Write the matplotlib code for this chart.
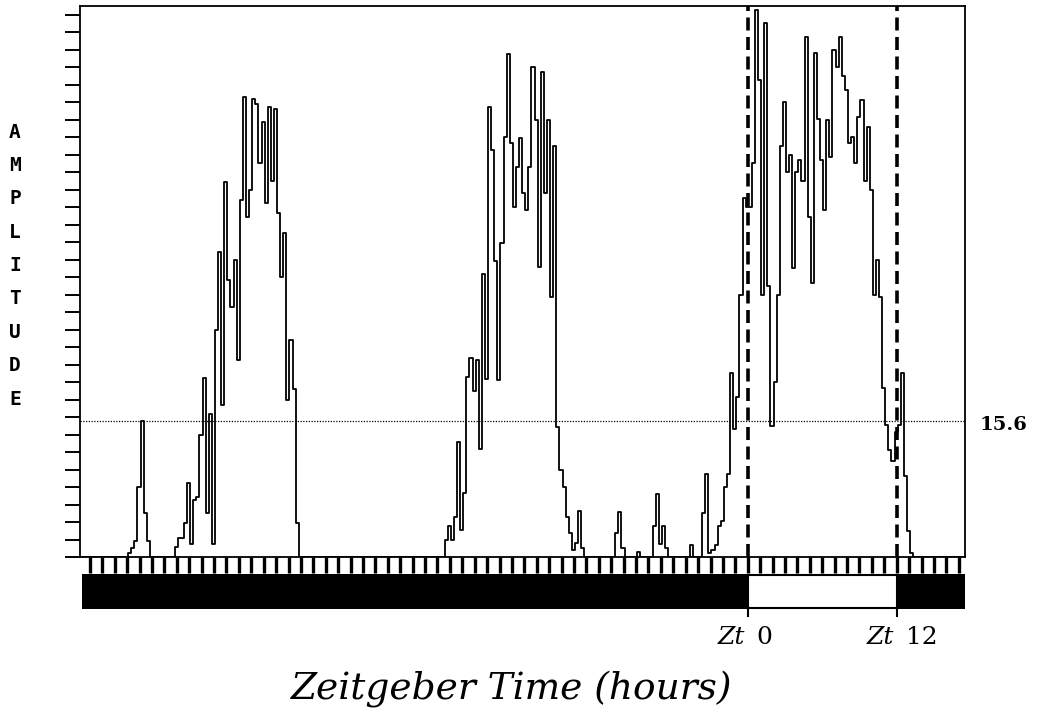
import numpy as np
import matplotlib.pyplot as plt
import matplotlib.transforms as mtransforms

# sampling step of the recorded trace (hours)
step = 0.25

# active stretches of the trace: start hour (Zt) + values
seg1_start = -50.0
seg1 = [0, 0.5, 1.0, 1.8, 8.0, 15.5, 5.0, 1.8, 0]

seg2_start = -46.25
seg2 = [0, 1.2, 2.2, 2.2, 3.9, 8.5, 1.5, 6.5, 6.9, 14, 20.5, 5, 16.4, 1.5,
        26, 34.9, 17.4, 42.9, 31.7, 28.6, 34, 22.5, 40.8, 52.6, 38.9, 42,
        52.4, 51.8, 45, 49.7, 40.5, 51.4, 43, 51.2, 39.3, 32, 37, 18, 24.8,
        19.2, 3.9, 0]

seg3_start = -24.5
seg3 = [0, 2, 3.5, 1.9, 4.6, 13.2, 3.1, 7.3, 20.6, 22.7, 19, 22.5, 12.4,
        32.4, 20.4, 51.5, 46.5, 33.9, 20.2, 35.9, 48, 57.5, 47.3, 40, 44.6,
        47.9, 41.6, 39.7, 44.6, 56, 50, 33.2, 55.5, 41.6, 50, 29.7, 47, 14.9,
        10, 8, 4.6, 2.7, 0.8, 1.6, 5.3, 1.0, 0]

seg4_start = -11.0
seg4 = [0, 0, 2.7, 5.1, 1.0, 0, 0, 0, 0, 0.6, 0, 0, 0, 0, 3.5, 7.2, 1.5,
        3.5, 1.0, 0, 0, 0, 0, 0, 0, 0, 1.4, 0, 0, 0, 5, 9.5, 0.5, 0.8, 1.4,
        3.5, 4.1, 8, 9.5, 21, 14.6, 18.3, 30, 41, 40, 40, 45, 62.5, 54.5, 30,
        61, 31, 15, 20, 30, 47, 52, 44, 46, 33, 44, 45.4, 43, 59.5, 38.9,
        31.3, 57.6, 50.1, 45.4, 39.7, 50, 45.7, 58, 56, 59.5, 55, 53.4, 47.3,
        48, 45, 50.3, 52.2, 43, 49.2, 42, 30, 34, 29.7, 19.3, 15.1, 12.2, 11,
        14.3, 15.1, 21, 9.3, 3, 0.5, 0]

threshold = 15.6
zt_marks = [0, 12]
zt_labels = ['0', '12']
light_on, light_off = 0, 12
x_min, x_max = -53.8, 17.5

hours = np.arange(x_min, x_max + step, step)
amp = np.zeros_like(hours)
for start, seg in [(seg1_start, seg1), (seg2_start, seg2),
                   (seg3_start, seg3), (seg4_start, seg4)]:
    i0 = int(round((start - x_min) / step))
    amp[i0:i0 + len(seg)] = seg

W, H = 1042, 721
fig = plt.figure(figsize=(W / 100, H / 100), dpi=100)


def box(x0, y0, x1, y1):
    return [x0 / W, 1 - y1 / H, (x1 - x0) / W, (y1 - y0) / H]


ax = fig.add_axes(box(80, 6, 965, 557))
ax.plot(hours, amp, color='black', lw=1.3, drawstyle='steps-mid')
ax.axhline(threshold, color='black', lw=0.9, ls=(0, (1, 1.2)))
for z in zt_marks:
    ax.axvline(z, color='black', lw=2.6, dashes=(3.6, 1.8))
ax.set_xlim(x_min, x_max)
ax.set_ylim(0, 63)
ax.set_xticks([])
ax.set_yticks(np.arange(0, 63, 2))
ax.tick_params(axis='y', direction='out', length=11, width=1.4, labelleft=False)
for s in ax.spines.values():
    s.set_linewidth(1.3)

# hour tick strip and light/dark bar
axb = fig.add_axes(box(80, 557, 965, 612))
axb.set_xlim(x_min, x_max)
axb.set_ylim(612, 557)
axb.vlines(np.arange(np.ceil(x_min), x_max), 557, 573, color='black', lw=2.4)
axb.broken_barh([(x_min + 0.15, light_on - x_min - 0.15), (light_off, x_max - light_off)],
                (574, 35), facecolors='black')
axb.broken_barh([(light_on, light_off - light_on)], (575, 33),
                facecolors='white', edgecolors='black', lw=1.5)
axb.vlines(zt_marks, 608, 617, color='black', lw=1.5, clip_on=False)
axb.axis('off')

trans = mtransforms.blended_transform_factory(axb.transData, fig.transFigure)
for z, lab in zip(zt_marks, zt_labels):
    t1 = mtransforms.offset_copy(trans, fig=fig, x=-3, y=0, units='dots')
    t2 = mtransforms.offset_copy(trans, fig=fig, x=9, y=0, units='dots')
    fig.text(z, 1 - 644 / H, 'Zt', transform=t1, ha='right', va='baseline',
             fontsize=18, style='italic', family='DejaVu Serif')
    fig.text(z, 1 - 644 / H, lab, transform=t2, ha='left', va='baseline',
             fontsize=18, family='DejaVu Serif')

fig.text(980 / W, 1 - 425 / H, '15.6', ha='left', va='center', fontsize=14,
         fontweight='bold', family='DejaVu Serif')

for i, ch in enumerate('AMPLITUDE'):
    fig.text(15 / W, 1 - (132 + i * 33.4) / H, ch, ha='center', va='center',
             fontsize=14, fontweight='bold', family='DejaVu Sans Mono')

fig.text(512 / W, 1 - 689 / H, 'Zeitgeber Time (hours)', ha='center', va='center',
         fontsize=27, style='italic', family='DejaVu Serif')

fig.savefig('out.png', dpi=100)
